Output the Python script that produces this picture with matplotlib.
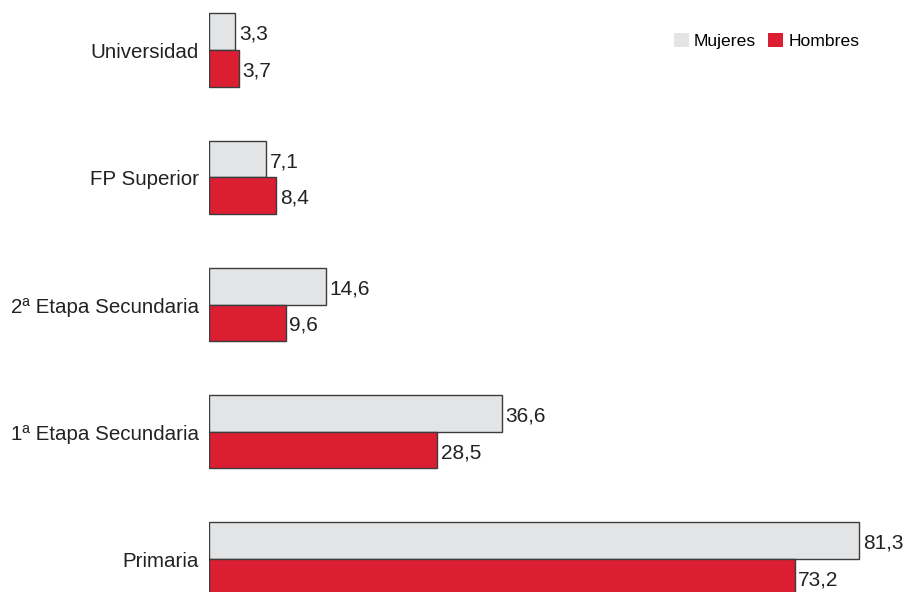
import numpy as np
import matplotlib.pyplot as plt
from matplotlib.patches import Patch

# data
categories = ["Universidad", "FP Superior", "2ª Etapa Secundaria",
              "1ª Etapa Secundaria", "Primaria"]
mujeres = [3.3, 7.1, 14.6, 36.6, 81.3]
hombres = [3.7, 8.4, 9.6, 28.5, 73.2]
series_names = ["Mujeres", "Hombres"]

GRAY = "#e3e4e6"
RED = "#dc1e32"
EDGE = "#3c3c3c"

plt.rcParams['font.family'] = ['Liberation Sans', 'DejaVu Sans']

fig = plt.figure(figsize=(9.08, 5.92), dpi=100)
ax = fig.add_axes([209 / 908, 0, 1 - 209 / 908, 1])

y = np.arange(len(categories))
h = 0.287
dy = 0.02  # text sits a touch low in the reference

ax.barh(y - h / 2, mujeres, height=h, color=GRAY, edgecolor=EDGE, linewidth=1)
ax.barh(y + h / 2, hombres, height=h, color=RED, edgecolor=EDGE, linewidth=1)

def fmt(v):
    return f"{v:.1f}".replace(".", ",")

for i in range(len(categories)):
    ax.text(mujeres[i] + 0.45, y[i] - h / 2 + dy, fmt(mujeres[i]), va="center",
            ha="left", fontsize=15, color="#222222")
    ax.text(hombres[i] + 0.45, y[i] + h / 2 + dy, fmt(hombres[i]), va="center",
            ha="left", fontsize=15, color="#222222")
    ax.text(-1.25, y[i] + dy, categories[i], va="center", ha="right",
            fontsize=14.8, color="#222222")

ax.set_xlim(0, (908 - 209) / 8.0)
ax.set_ylim((592 - 50) / 127.25, -50 / 127.25)
ax.axis("off")

handles = [Patch(facecolor=GRAY, edgecolor="none"),
           Patch(facecolor=RED, edgecolor="none")]
fig.legend(handles, series_names, loc="center right",
           bbox_to_anchor=(875 / 908, 1 - 41 / 592), frameon=False,
           ncol=2, fontsize=12.6, handlelength=0.85, handleheight=0.85,
           handletextpad=0.3, columnspacing=0.7)

fig.savefig("out.png", dpi=100)
